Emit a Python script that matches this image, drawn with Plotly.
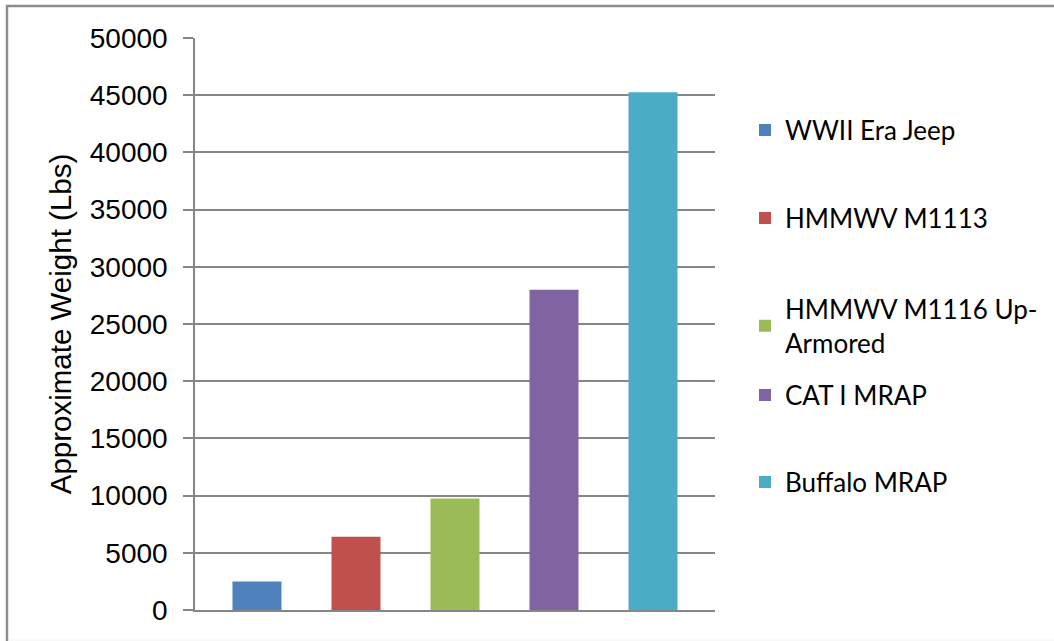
import plotly.graph_objects as go

vehicles = ["WWII Era Jeep", "HMMWV M1113", "HMMWV M1116 Up-<br>Armored", "CAT I MRAP", "Buffalo MRAP"]
weights = [2500, 6400, 9750, 28000, 45250]
colors = ["#4F81BD", "#C0504D", "#9BBB59", "#8064A2", "#4BACC6"]
legend_centers_px = [130, 218, 326, 395, 482]

y_ticks = list(range(0, 50001, 5000))

W, H = 1054, 641
L, R, T, B = 195, 339, 38, 31
PW, PH = W - L - R, H - T - B

def px_x(p):
    return (p - L) / PW

def px_y(p):
    return (H - B - p) / PH

fig = go.Figure()
legend_layouts = {}
for i, (name, w, c, ly) in enumerate(zip(vehicles, weights, colors, legend_centers_px)):
    lname = "legend" if i == 0 else f"legend{i + 1}"
    fig.add_trace(go.Bar(
        x=[i], y=[w], name=name, width=0.495,
        marker=dict(color=c, line=dict(width=0)),
        legend=lname,
    ))
    legend_layouts[lname] = dict(
        x=px_x(745), y=px_y(ly), xanchor="left", yanchor="middle",
        font=dict(size=26, family="Lato, Open Sans, sans-serif", color="#000000"),
        bgcolor="rgba(0,0,0,0)", borderwidth=0,
    )

fig.update_layout(
    width=W, height=H,
    margin=dict(l=L, r=R, t=T, b=B, autoexpand=False),
    paper_bgcolor="white", plot_bgcolor="white",
    barmode="overlay",
    showlegend=True,
    font=dict(family="Liberation Sans, Arial, sans-serif", color="#000000"),
    xaxis=dict(
        range=[-0.626, 4.626], showticklabels=False, showgrid=False,
        zeroline=False, showline=True, linecolor="#868686", linewidth=1.5,
        ticks="", fixedrange=True,
    ),
    yaxis=dict(
        range=[0, 50000], tickvals=y_ticks, ticktext=[str(v) for v in y_ticks],
        showgrid=True, gridcolor="#868686", gridwidth=1.5,
        zeroline=False, showline=True, linecolor="#868686", linewidth=1.5,
        ticks="outside", ticklen=10, tickcolor="#868686", tickwidth=1.5,
        tickfont=dict(size=28, family="Liberation Sans, Arial, sans-serif"),
        ticklabelstandoff=10,
        title=dict(text="Approximate Weight (Lbs)", standoff=9,
                   font=dict(size=29.5, family="Liberation Sans, Arial, sans-serif")),
    ),
    shapes=[
        dict(type="rect", xref="paper", yref="paper",
             x0=px_x(7), x1=px_x(1070), y0=px_y(660), y1=px_y(6),
             line=dict(color="#8C8C8C", width=2.5), layer="below"),
        dict(type="line", xref="paper", yref="paper",
             x0=px_x(8), x1=px_x(1054), y0=px_y(640), y1=px_y(640),
             line=dict(color="#F2F2F2", width=1), layer="below"),
    ],
    **legend_layouts,
)

fig.write_html("out.html", config={"displayModeBar": False},
               post_script="document.body.style.margin='0';")
